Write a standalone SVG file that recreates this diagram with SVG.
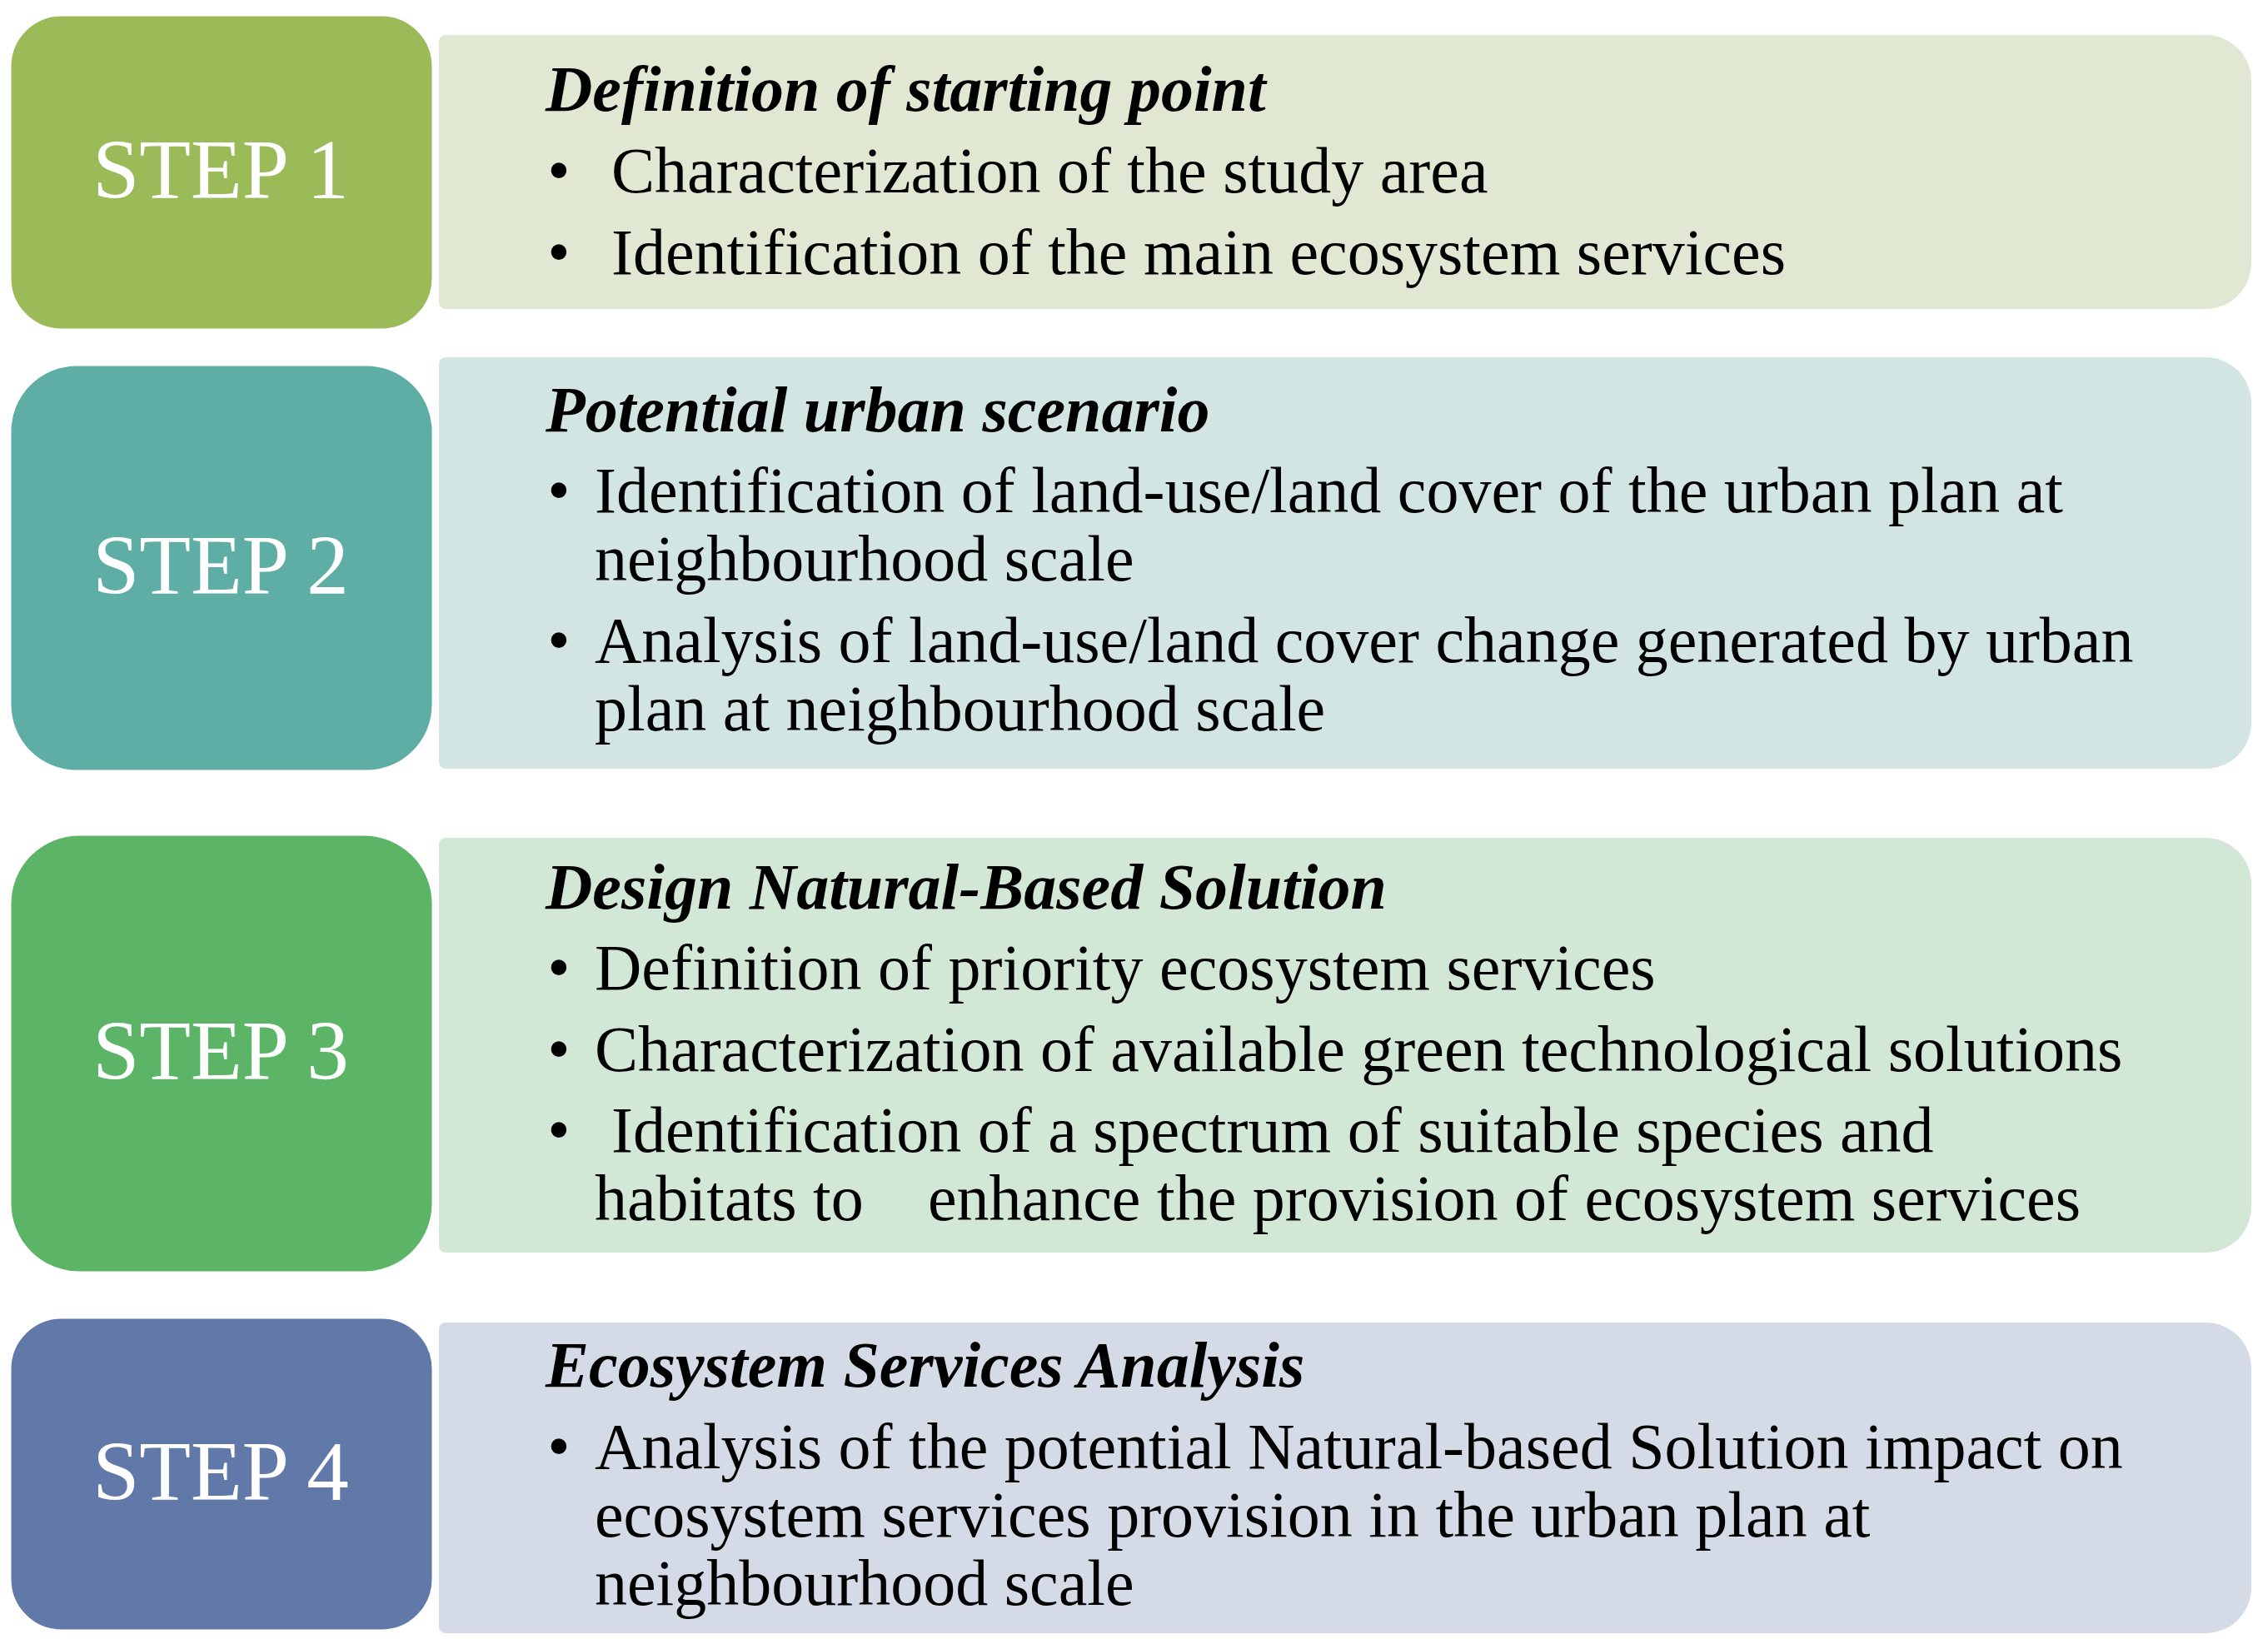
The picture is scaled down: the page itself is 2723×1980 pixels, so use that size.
<svg xmlns="http://www.w3.org/2000/svg" width="2723" height="1980" viewBox="0 0 2723 1980">
<style>
.step{stroke:#ffffff;stroke-width:7}
.lbl{font-family:"Liberation Serif","Times New Roman",serif;font-size:101px;fill:#ffffff;text-anchor:middle}
.t{font-family:"Liberation Serif","Times New Roman",serif;font-size:78px;fill:#000000}
.h{font-weight:bold;font-style:italic}
.b{text-anchor:middle}
</style>
<rect width="2723" height="1980" fill="#ffffff"/>
<g id="step1">
<path d="M535 42H2648A55 55 0 0 1 2703 97V316A55 55 0 0 1 2648 371H535A8 8 0 0 1 527 363V50A8 8 0 0 1 535 42Z" fill="#E0E8D3"/>
<rect class="step" x="10" y="16" width="512" height="382" rx="64" fill="#9BBB59"/>
<text class="lbl" x="265" y="238">STEP 1</text>
<text class="t h" x="655" y="133">Definition of starting point</text>
<text class="t b" x="671" y="231">•</text>
<text class="t" x="734" y="231">Characterization of the study area</text>
<text class="t b" x="671" y="329">•</text>
<text class="t" x="734" y="329">Identification of the main ecosystem services</text>
</g>
<g id="step2">
<path d="M535 429H2648A55 55 0 0 1 2703 484V868A55 55 0 0 1 2648 923H535A8 8 0 0 1 527 915V437A8 8 0 0 1 535 429Z" fill="#D3E5E3"/>
<rect class="step" x="10" y="436" width="512" height="492" rx="82" fill="#5FAEA6"/>
<text class="lbl" x="265" y="713">STEP 2</text>
<text class="t h" x="655" y="518">Potential urban scenario</text>
<text class="t b" x="671" y="615">•</text>
<text class="t" x="714" y="615">Identification of land-use/land cover of the urban plan at</text>
<text class="t" x="714" y="697">neighbourhood scale</text>
<text class="t b" x="671" y="795">•</text>
<text class="t" x="714" y="795">Analysis of land-use/land cover change generated by urban</text>
<text class="t" x="714" y="877">plan at neighbourhood scale</text>
</g>
<g id="step3">
<path d="M535 1006H2648A55 55 0 0 1 2703 1061V1449A55 55 0 0 1 2648 1504H535A8 8 0 0 1 527 1496V1014A8 8 0 0 1 535 1006Z" fill="#D3E7D6"/>
<rect class="step" x="10" y="1000" width="512" height="530" rx="85" fill="#5CB466"/>
<text class="lbl" x="265" y="1296">STEP 3</text>
<text class="t h" x="655" y="1091">Design Natural-Based Solution</text>
<text class="t b" x="671" y="1188">•</text>
<text class="t" x="714" y="1188">Definition of priority ecosystem services</text>
<text class="t b" x="671" y="1286">•</text>
<text class="t" x="714" y="1286">Characterization of available green technological solutions</text>
<text class="t b" x="671" y="1383">•</text>
<text class="t" x="734" y="1383">Identification of a spectrum of suitable species and</text>
<text class="t" x="714" y="1465">habitats to</text>
<text class="t" x="1114" y="1465">enhance the provision of ecosystem services</text>
</g>
<g id="step4">
<path d="M535 1588H2648A55 55 0 0 1 2703 1643V1906A55 55 0 0 1 2648 1961H535A8 8 0 0 1 527 1953V1596A8 8 0 0 1 535 1588Z" fill="#D5DBE6"/>
<rect class="step" x="10" y="1580" width="512" height="380" rx="64" fill="#6179A8"/>
<text class="lbl" x="265" y="1801">STEP 4</text>
<text class="t h" x="655" y="1665">Ecosystem Services Analysis</text>
<text class="t b" x="671" y="1763">•</text>
<text class="t" x="714" y="1763">Analysis of the potential Natural-based Solution impact on</text>
<text class="t" x="714" y="1845">ecosystem services provision in the urban plan at</text>
<text class="t" x="714" y="1927">neighbourhood scale</text>
</g>
</svg>
